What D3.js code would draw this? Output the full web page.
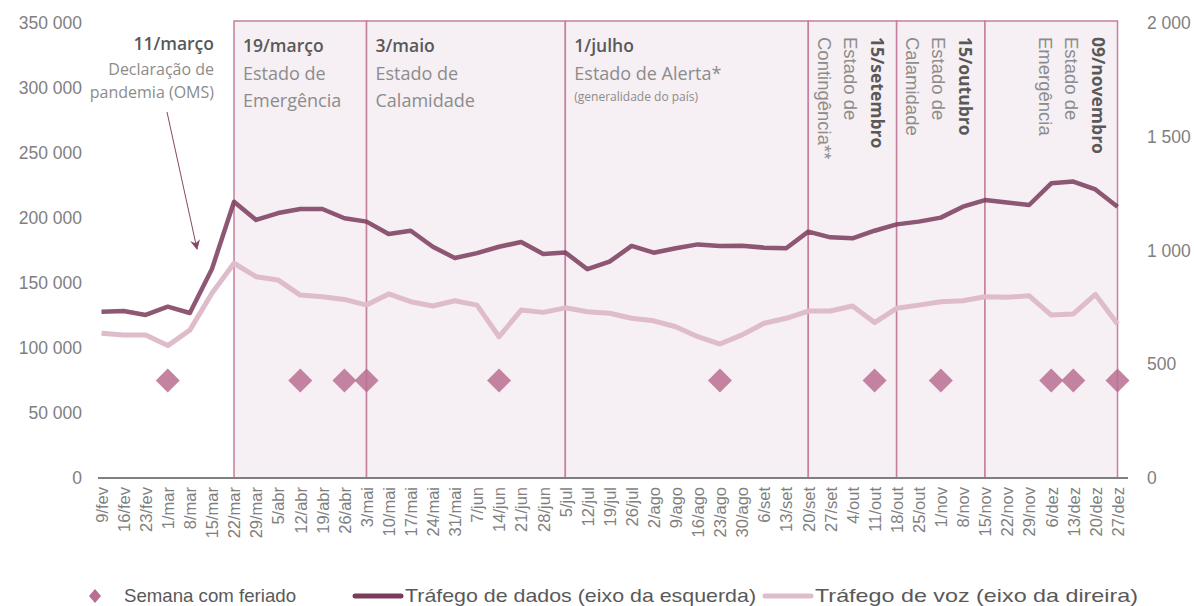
<!DOCTYPE html>
<html>
<head>
<meta charset="utf-8">
<script src="https://cdn.jsdelivr.net/npm/d3@7"></script>
<style>
  body { margin: 0; background: #fff; }
  svg { display: block; }
  .tick text { font-family: "Liberation Sans", Arial, sans-serif; fill: #7f7f7f; }
  .note { font-family: "Open Sans", sans-serif; }
</style>
</head>
<body>
<svg id="chart" width="1194" height="606"></svg>
<script>
// weeks on the x axis
var weeks = ["9/fev","16/fev","23/fev","1/mar","8/mar","15/mar","22/mar","29/mar","5/abr","12/abr",
  "19/abr","26/abr","3/mai","10/mai","17/mai","24/mai","31/mai","7/jun","14/jun","21/jun",
  "28/jun","5/jul","12/jul","19/jul","26/jul","2/ago","9/ago","16/ago","23/ago","30/ago",
  "6/set","13/set","20/set","27/set","4/out","11/out","18/out","25/out","1/nov","8/nov",
  "15/nov","22/nov","29/nov","6/dez","13/dez","20/dez","27/dez"];

// data traffic (left axis)
var dados = [127900,128500,125400,131800,126900,160800,212500,198500,203800,206900,
  206900,199800,197200,187700,190200,177900,169200,173000,177900,181500,
  172300,173500,160600,166400,178500,173300,176700,179700,178500,178700,
  177200,176700,189500,185100,184400,190200,195100,197200,200300,208700,
  213800,212000,210000,226700,228000,222000,208700];

// voice traffic (right axis)
var voz = [636,629,629,582,650,812,944,885,870,804,
  797,785,760,809,775,756,779,760,621,738,
  728,748,731,724,702,691,665,621,589,629,
  680,702,734,734,756,683,746,760,775,779,
  797,794,801,716,721,807,677];

// weeks with a holiday
var feriados = ["1/mar","12/abr","26/abr","3/mai","14/jun","23/ago","11/out","1/nov","6/dez","13/dez","27/dez"];
var feriadoNivel = 75000;

var leftTicks = [0,50000,100000,150000,200000,250000,300000,350000];
var rightTicks = [0,500,1000,1500,2000];

// periods (from, to) and their labels
var periodos = [
  {from: "22/mar", to: "3/mai", date: "19/março", lines: ["Estado de", "Emergência"]},
  {from: "3/mai", to: "5/jul", date: "3/maio", lines: ["Estado de", "Calamidade"]},
  {from: "5/jul", to: "20/set", date: "1/julho", lines: ["Estado de Alerta*"], small: "(generalidade do país)"},
  {from: "20/set", to: "18/out", date: "15/setembro", lines: ["Estado de", "Contingência**"], vertical: true},
  {from: "18/out", to: "15/nov", date: "15/outubro", lines: ["Estado de", "Calamidade"], vertical: true},
  {from: "15/nov", to: "27/dez", date: "09/novembro", lines: ["Estado de", "Emergência"], vertical: true}
];

var svg = d3.select("#chart");

var x = d3.scalePoint().domain(weeks).range([101.5, 1117.5]);
var yL = d3.scaleLinear().domain([0, 350000]).range([478, 23]);
var yR = d3.scaleLinear().domain([0, 2000]).range([478, 23]);

var fmt = function(d){ return d3.format(",")(d).replace(/,/g, " "); };

// period boxes
var boxes = svg.append("g");
periodos.forEach(function(p){
  boxes.append("rect")
    .attr("x", x(p.from)).attr("y", 21)
    .attr("width", x(p.to) - x(p.from)).attr("height", yL(0) - 21)
    .attr("fill", "#f6eff3")
    .attr("stroke", "#c57f9f")
    .attr("stroke-width", 1.5);
});

// left axis
svg.append("g")
  .attr("transform", "translate(86,0)")
  .call(d3.axisLeft(yL).tickValues(leftTicks).tickSize(0).tickPadding(4).tickFormat(fmt))
  .call(function(g){ g.select(".domain").remove(); })
  .selectAll("text").style("font-size", "17.5px");

// right axis
svg.append("g")
  .attr("transform", "translate(1141,0)")
  .call(d3.axisRight(yR).tickValues(rightTicks).tickSize(0).tickPadding(6).tickFormat(fmt))
  .call(function(g){ g.select(".domain").remove(); })
  .selectAll("text").style("font-size", "17.5px");

// bottom axis
var xAxis = svg.append("g")
  .attr("transform", "translate(0," + yL(0) + ")")
  .call(d3.axisBottom(x).tickSize(0).tickPadding(0));
xAxis.select(".domain").remove();
xAxis.append("line")
  .attr("x1", 98).attr("x2", 1128)
  .attr("stroke", "#7f7f7f").attr("stroke-width", 2);
xAxis.selectAll(".tick text")
  .style("font-size", "16.5px")
  .attr("text-anchor", "end")
  .attr("transform", "translate(0,9) rotate(-90)")
  .attr("dy", "0.35em")
  .attr("x", 0).attr("y", 0);

// voice line
svg.append("path")
  .datum(voz)
  .attr("fill", "none")
  .attr("stroke", "#dfbccb")
  .attr("stroke-width", 5)
  .attr("stroke-linejoin", "round")
  .attr("d", d3.line().x(function(d, i){ return x(weeks[i]); }).y(function(d){ return yR(d); }));

// data line
svg.append("path")
  .datum(dados)
  .attr("fill", "none")
  .attr("stroke", "#7a3b5c")
  .attr("stroke-opacity", 0.85)
  .attr("stroke-width", 4.5)
  .attr("stroke-linejoin", "round")
  .attr("d", d3.line().x(function(d, i){ return x(weeks[i]); }).y(function(d){ return yL(d); }));

// holiday diamonds
svg.append("g").selectAll("path")
  .data(feriados)
  .enter().append("path")
  .attr("transform", function(d){ return "translate(" + x(d) + "," + yL(feriadoNivel) + ")"; })
  .attr("d", "M0,-12L12,0L0,12L-12,0Z")
  .attr("fill", "#b96f91")
  .attr("fill-opacity", 0.85);

// period labels
periodos.forEach(function(p){
  var g = svg.append("g").attr("class", "note");
  if (!p.vertical) {
    var x0 = x(p.from) + 9;
    g.append("text").attr("x", x0).attr("y", 52)
      .attr("font-size", 17.5).attr("font-weight", 600).attr("fill", "#595959").text(p.date);
    p.lines.forEach(function(l, i){
      g.append("text").attr("x", x0).attr("y", 80 + i * 27)
        .attr("font-size", 18).attr("fill", "#8c8c8c").text(l);
    });
    if (p.small) {
      g.append("text").attr("x", x0).attr("y", 101)
        .attr("font-size", 12).attr("fill", "#8c8c8c").text(p.small);
    }
  } else {
    var xr = x(p.to) - 23;
    g.append("text").attr("transform", "translate(" + (xr - 3) + ",37) rotate(90)")
      .attr("font-size", 17.5).attr("font-weight", 700).attr("fill", "#595959").text(p.date);
    p.lines.forEach(function(l, i){
      g.append("text").attr("transform", "translate(" + (xr - 30 - i * 26) + ",37) rotate(90)")
        .attr("font-family", "Liberation Sans, Arial, sans-serif")
        .attr("font-size", 18.5).attr("fill", "#8c8c8c").text(l);
    });
  }
});

// pandemic annotation
var ann = svg.append("g").attr("class", "note").attr("text-anchor", "end");
ann.append("text").attr("x", 214).attr("y", 50)
  .attr("font-size", 17.5).attr("font-weight", 600).attr("fill", "#595959").text("11/março");
ann.append("text").attr("x", 214).attr("y", 75)
  .attr("font-size", 16).attr("fill", "#8c8c8c").text("Declaração de");
ann.append("text").attr("x", 214).attr("y", 98)
  .attr("font-size", 16).attr("fill", "#8c8c8c").text("pandemia (OMS)");

svg.append("defs").append("marker")
  .attr("id", "arrow").attr("viewBox", "0 0 10 10")
  .attr("refX", 9).attr("refY", 5)
  .attr("markerWidth", 10).attr("markerHeight", 10)
  .attr("markerUnits", "userSpaceOnUse")
  .attr("orient", "auto")
  .append("path").attr("d", "M0,0L10,5L0,10L3,5Z").attr("fill", "#8a4566");
svg.append("line")
  .attr("x1", 167).attr("y1", 112).attr("x2", 197).attr("y2", 249)
  .attr("stroke", "#8a4566").attr("stroke-width", 1)
  .attr("marker-end", "url(#arrow)");

// legend
var leg = svg.append("g").style("font-family", "Liberation Sans, Arial, sans-serif").style("font-size", "18.5px");
leg.append("path").attr("transform", "translate(95,596)")
  .attr("d", "M0,-7L6,0L0,7L-6,0Z").attr("fill", "#b96f91");
leg.append("text").attr("x", 124).attr("y", 602).attr("fill", "#595959")
  .attr("textLength", 172).attr("lengthAdjust", "spacingAndGlyphs").text("Semana com feriado");
leg.append("line").attr("x1", 355).attr("x2", 401).attr("y1", 596).attr("y2", 596)
  .attr("stroke", "#7a3b5c").attr("stroke-width", 5).attr("stroke-linecap", "round");
leg.append("text").attr("x", 405).attr("y", 602).attr("fill", "#595959")
  .attr("textLength", 351).attr("lengthAdjust", "spacingAndGlyphs").text("Tráfego de dados (eixo da esquerda)");
leg.append("line").attr("x1", 765).attr("x2", 811).attr("y1", 596).attr("y2", 596)
  .attr("stroke", "#dfbccb").attr("stroke-width", 5).attr("stroke-linecap", "round");
leg.append("text").attr("x", 815).attr("y", 602).attr("fill", "#595959")
  .attr("textLength", 323).attr("lengthAdjust", "spacingAndGlyphs").text("Tráfego de voz (eixo da direira)");
</script>
</body>
</html>
